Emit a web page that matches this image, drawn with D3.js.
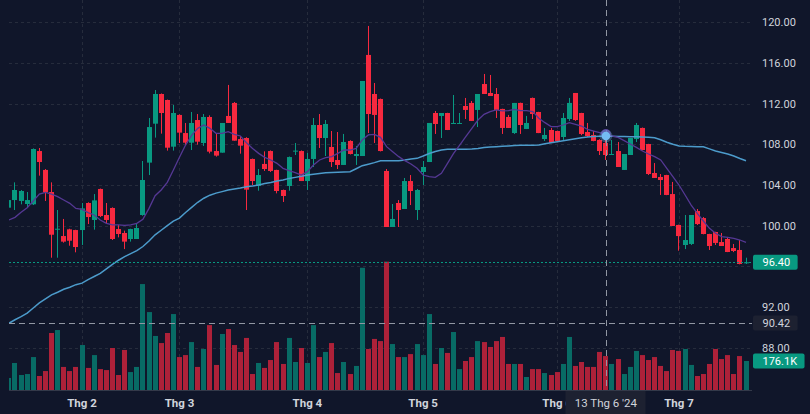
<!DOCTYPE html>
<html><head><meta charset="utf-8">
<script src="https://cdn.jsdelivr.net/npm/d3@7"></script>
<style>html,body{margin:0;padding:0;background:#10162a;}svg{display:block;}</style>
</head><body><svg id="c" width="810" height="414"></svg>
<script>
// ---------- DATA ----------
const dates = [
"2024-01-16","2024-01-17","2024-01-18","2024-01-19","2024-01-22","2024-01-23","2024-01-24","2024-01-25","2024-01-26","2024-01-29","2024-01-30","2024-01-31",
"2024-02-01","2024-02-02","2024-02-05","2024-02-06","2024-02-07","2024-02-15","2024-02-16","2024-02-19","2024-02-20","2024-02-21","2024-02-22","2024-02-23","2024-02-26","2024-02-27","2024-02-28","2024-02-29",
"2024-03-01","2024-03-04","2024-03-05","2024-03-06","2024-03-07","2024-03-08","2024-03-11","2024-03-12","2024-03-13","2024-03-14","2024-03-15","2024-03-18","2024-03-19","2024-03-20","2024-03-21","2024-03-22","2024-03-25","2024-03-26","2024-03-27","2024-03-28","2024-03-29",
"2024-04-01","2024-04-02","2024-04-03","2024-04-04","2024-04-05","2024-04-08","2024-04-09","2024-04-10","2024-04-11","2024-04-12","2024-04-15","2024-04-16","2024-04-17","2024-04-19","2024-04-22","2024-04-23","2024-04-24","2024-04-25","2024-04-26",
"2024-05-02","2024-05-03","2024-05-06","2024-05-07","2024-05-08","2024-05-09","2024-05-10","2024-05-13","2024-05-14","2024-05-15","2024-05-16","2024-05-17","2024-05-20","2024-05-21","2024-05-22","2024-05-23","2024-05-24","2024-05-27","2024-05-28","2024-05-29","2024-05-30","2024-05-31",
"2024-06-03","2024-06-04","2024-06-05","2024-06-06","2024-06-07","2024-06-10","2024-06-11","2024-06-12","2024-06-13","2024-06-14","2024-06-17","2024-06-18","2024-06-19","2024-06-20","2024-06-21","2024-06-24","2024-06-25","2024-06-26","2024-06-27","2024-06-28",
"2024-07-01","2024-07-02","2024-07-03","2024-07-04","2024-07-05","2024-07-08","2024-07-09","2024-07-10","2024-07-11","2024-07-12","2024-07-15","2024-07-16"];

const open = [101.77,102.52,102.43,102.13,102.10,107.34,105.48,103.31,99.64,98.98,
99.64,99.57,99.57,102.23,100.56,103.61,101.05,101.74,99.67,99.28,
98.69,98.69,101.05,106.20,110.03,112.95,112.36,107.77,110.89,109.11,
108.16,110.39,108.13,110.69,107.34,107.18,110.79,112.07,108.52,108.62,
106.56,103.90,106.07,107.34,105.48,103.51,103.90,107.30,107.34,104.39,
106.56,109.90,108.62,107.74,106.46,105.97,108.33,106.85,106.85,116.79,
112.95,112.46,105.38,99.87,102.23,101.64,104.39,101.54,105.28,106.26,
111.08,110.79,111.08,110.00,110.05,111.77,112.07,111.38,113.93,113.05,
112.95,111.48,110.69,109.11,112.07,109.51,112.56,111.18,108.52,109.41,
109.31,108.72,110.49,113.05,111.08,109.21,108.92,108.43,108.13,107.00,
107.34,105.48,106.95,108.52,109.61,108.03,105.18,104.79,104.98,103.11,
100.07,98.10,98.20,101.44,100.75,99.18,99.38,98.39,98.69,97.80,
97.61,96.30];
const high = [102.60,104.26,103.50,103.31,107.60,107.64,105.57,104.26,101.54,100.66,
99.70,99.60,102.23,102.30,103.11,103.65,102.23,101.80,100.07,99.51,
99.70,100.16,106.36,110.59,113.34,113.00,112.40,111.87,110.95,110.10,
111.18,110.98,110.98,110.85,109.05,110.10,113.84,112.16,108.82,108.70,
106.60,105.57,107.31,107.40,105.50,103.55,106.80,108.13,107.40,107.15,
110.59,110.98,110.39,109.31,109.21,109.02,108.40,107.84,114.23,119.64,
114.03,112.50,105.57,102.13,102.52,104.69,104.98,103.61,106.36,110.10,
111.28,111.08,111.10,112.85,111.08,112.56,112.26,112.95,114.92,114.82,
113.54,111.50,110.89,112.07,112.10,110.79,112.60,111.20,109.61,109.61,
109.35,111.08,112.56,113.05,111.10,110.10,109.31,108.50,108.50,108.43,
108.23,107.05,108.62,110.10,109.65,108.05,106.16,105.08,105.00,104.30,
100.10,101.05,101.05,101.64,100.85,99.20,99.40,99.28,98.89,98.20,
98.59,96.85];
const low = [100.53,101.54,102.10,101.77,102.03,104.92,102.43,96.85,96.85,98.33,
98.03,97.38,98.10,100.16,99.61,100.85,100.20,98.59,98.85,97.70,
98.43,98.69,100.98,104.98,108.66,109.05,107.38,107.38,108.13,107.93,
107.44,107.97,107.84,107.11,106.79,107.18,110.10,108.36,107.08,101.54,
104.00,103.44,105.38,105.28,103.18,102.33,103.44,106.95,104.39,103.51,
105.77,107.64,106.85,105.77,105.57,105.97,107.00,105.97,106.85,109.11,
108.13,107.30,99.87,99.87,99.87,101.64,102.03,100.56,104.00,106.26,
109.02,108.62,109.40,110.00,110.00,110.49,110.30,109.70,112.95,112.75,
110.59,109.02,109.60,109.02,109.02,109.50,110.49,109.10,108.33,108.13,
108.20,108.43,110.30,110.30,108.90,108.72,108.30,106.95,106.46,106.95,
105.77,105.48,106.95,108.23,107.40,104.98,104.69,103.02,103.00,99.97,
97.54,97.70,98.10,100.07,99.15,97.61,98.10,98.00,97.40,97.40,
96.20,96.23];
const close = [102.52,103.51,103.41,102.52,107.54,106.26,103.28,99.11,99.70,98.43,
98.52,97.90,101.70,100.85,102.49,100.95,100.56,98.69,99.18,98.43,
99.67,99.77,104.49,109.70,112.95,111.08,107.67,111.08,109.15,108.16,
110.10,108.26,110.69,107.28,106.89,110.10,110.10,108.36,107.87,103.54,
104.39,104.98,105.57,105.38,103.41,102.92,106.75,107.38,104.39,106.56,
109.90,108.62,110.00,106.26,105.97,108.23,107.05,107.05,114.23,110.98,
110.89,107.34,99.87,100.66,101.54,104.39,103.41,103.51,105.77,110.10,
110.00,111.08,109.41,110.10,110.10,111.38,110.30,112.95,112.95,112.75,
111.38,109.61,109.61,112.07,109.90,110.10,110.98,109.11,108.92,108.13,
108.33,110.59,112.07,110.39,109.02,108.82,108.33,107.34,106.95,107.05,
105.77,107.05,108.62,109.90,107.44,105.08,104.69,104.49,103.02,99.97,
98.98,98.59,101.05,100.16,99.18,98.00,98.30,98.00,97.41,97.51,
96.23,96.40];
// volume, thousands of shares
const volumeK = [73,164,91,97,200,85,115,346,364,140,
115,140,273,134,212,127,121,255,91,243,
109,140,643,473,328,285,346,461,200,212,
291,140,249,394,152,340,370,273,231,316,
97,164,134,182,291,158,316,170,255,164,
394,200,231,285,103,170,97,146,742,249,
310,297,779,279,200,200,218,279,212,461,
158,255,225,352,127,176,200,297,291,261,
297,322,158,158,158,79,127,127,103,91,
109,158,322,146,170,140,140,231,206,158,
188,97,140,237,212,182,200,146,115,243,
237,249,152,85,97,158,249,188,212,97,
206,176.1];
// moving averages as drawn (10 and 50 sessions)
const ma10 = [100.56,100.82,101.31,101.77,102.43,103.11,103.28,103.11,102.85,102.52,
102.2,101.7,101.6,101.28,101.05,100.56,100.23,100.07,100.07,100.03,
100.07,100.23,100.62,101.7,102.95,103.51,104.26,105.48,106.72,107.93,
108.89,109.57,109.9,109.57,109.08,109.08,109.25,108.98,108.82,108.16,
107.6,107.11,106.72,106.46,106.13,105.64,105.41,105.21,104.98,105.31,
105.97,106.46,106.69,106.79,107.11,107.44,107.44,107.6,108.43,108.92,
108.98,108.69,107.77,107.28,106.79,106.39,106.07,105.64,104.98,104.82,
104.75,105.15,106.13,107.11,107.93,108.75,109.57,110.39,110.95,111.21,
111.38,111.28,111.31,111.44,111.31,111.31,111.21,110.56,110.13,109.74,
109.74,109.9,110.13,109.97,109.8,109.48,109.31,109.15,109.02,108.82,
108.69,108.36,108.03,107.7,107.34,107.05,106.79,106.46,105.64,104.82,
104.0,103.02,102.03,101.21,100.46,99.74,99.25,98.92,98.85,98.75,
98.59,98.36];
const ma50 = [90.40,90.75,91.05,91.40,91.9,92.4,92.8,93.2,93.45,93.75,
93.95,94.2,94.35,94.7,95.0,95.3,95.75,96.2,96.6,96.95,
97.25,97.55,97.95,98.5,99.1,99.55,100.0,100.45,100.75,101.3,
101.8,102.3,102.7,103.0,103.2,103.35,103.5,103.6,103.7,103.82,
103.9,104.0,104.15,104.25,104.4,104.5,104.65,104.75,104.85,104.98,
105.05,105.12,105.2,105.22,105.25,105.28,105.31,105.6,105.9,106.05,
106.2,106.39,106.39,106.39,106.39,106.45,106.55,106.62,106.85,107.1,
107.3,107.45,107.51,107.51,107.51,107.52,107.55,107.6,107.68,107.74,
107.77,107.8,107.84,107.88,107.9,107.9,107.9,107.94,108.05,108.15,
108.26,108.35,108.45,108.55,108.65,108.72,108.78,108.8,108.82,108.8,
108.78,108.76,108.75,108.74,108.72,108.7,108.65,108.45,108.2,108.0,
107.84,107.8,107.78,107.77,107.75,107.55,107.35,107.2,107.05,106.85,
106.6,106.39];
const priceTicks = [88,92,96,100,104,108,112,116,120];
const crossDate = "2024-06-13";
const crossPrice = 90.42;

// ---------- STYLE ----------
const BG = "#10162a", UP = "#089981", DOWN = "#f7293f";
const VUP = "#086b65", VDOWN = "#ad2139";
const TXT = "#d1d4dc", GRID = "#262c3c";
const plotL = 9, plotR = 752, plotB = 390;

const svg = d3.select("#c");
svg.append("rect").attr("width",810).attr("height",414).attr("fill",BG);

const x = d3.scalePoint().domain(dates).range([8.9, 746.0]);
const y = d3.scaleLinear().domain([88,120]).range([347.7, 22.3]);
const yv = d3.scaleLinear().domain([0,800]).range([plotB, 258.2]);

svg.append("defs").append("clipPath").attr("id","clip")
  .append("rect").attr("x",plotL).attr("y",0).attr("width",plotR-plotL).attr("height",plotB);

// grid
const grid = svg.append("g");
grid.selectAll("line.h").data(priceTicks).join("line").attr("class","h")
  .attr("x1",plotL).attr("x2",plotR)
  .attr("y1",d=>Math.round(y(d))+0.5).attr("y2",d=>Math.round(y(d))+0.5)
  .attr("stroke",GRID).attr("stroke-dasharray","3,3");
const monthStarts = dates.filter((d,i)=>i>0 && d.slice(5,7)!==dates[i-1].slice(5,7));
grid.selectAll("line.v").data(monthStarts).join("line").attr("class","v")
  .attr("x1",d=>Math.round(x(d))+0.5).attr("x2",d=>Math.round(x(d))+0.5)
  .attr("y1",0).attr("y2",plotB)
  .attr("stroke",GRID).attr("stroke-dasharray","3,3");

const plot = svg.append("g").attr("clip-path","url(#clip)");
const idx = d3.range(dates.length);
const left = i => Math.round(x(dates[i]) - 2.5);

// volume
plot.append("g").selectAll("rect").data(idx).join("rect")
  .attr("x",left).attr("width",5)
  .attr("y",i=>yv(volumeK[i])).attr("height",i=>plotB-yv(volumeK[i]))
  .attr("fill",i=>close[i]>=open[i]?VUP:VDOWN);

// candles
const cg = plot.append("g");
cg.selectAll("line").data(idx).join("line")
  .attr("x1",i=>left(i)+2.5).attr("x2",i=>left(i)+2.5)
  .attr("y1",i=>y(high[i])).attr("y2",i=>y(low[i]))
  .attr("stroke",i=>close[i]>=open[i]?UP:DOWN).attr("stroke-width",1);
cg.selectAll("rect").data(idx).join("rect")
  .attr("x",left).attr("width",5)
  .attr("y",i=>y(Math.max(open[i],close[i])))
  .attr("height",i=>Math.max(1,Math.abs(y(open[i])-y(close[i]))))
  .attr("fill",i=>close[i]>=open[i]?UP:DOWN);

// moving averages
const line = d3.line().x((d,i)=>x(dates[i])).y(d=>y(d));
plot.append("path").datum(ma50).attr("d",line).attr("fill","none")
  .attr("stroke","#4c9bcb").attr("stroke-width",1.5);
plot.append("path").datum(ma10).attr("d",line).attr("fill","none")
  .attr("stroke","#553894").attr("stroke-width",1.3);

// bottom axis line
svg.append("line").attr("x1",plotL).attr("x2",plotR).attr("y1",plotB+0.5).attr("y2",plotB+0.5)
  .attr("stroke","#333949");

// current price line
const last = dates.length-1;
const yLast = y(close[last]);
svg.append("line").attr("x1",plotL).attr("x2",plotR)
  .attr("y1",Math.round(yLast)+0.5).attr("y2",Math.round(yLast)+0.5)
  .attr("stroke",UP).attr("stroke-dasharray","2,2");

// crosshair
const cx = Math.round(x(crossDate))+0.5;
const cy = Math.round(y(crossPrice))+0.5;
svg.append("line").attr("x1",cx).attr("x2",cx).attr("y1",0).attr("y2",plotB)
  .attr("stroke","#9197a3").attr("stroke-dasharray","6,4");
svg.append("line").attr("x1",plotL).attr("x2",plotR).attr("y1",cy).attr("y2",cy)
  .attr("stroke","#9197a3").attr("stroke-dasharray","6,4");
const ci = dates.indexOf(crossDate);
svg.append("circle").attr("cx",x(crossDate)).attr("cy",y(ma10[ci])).attr("r",5)
  .attr("fill","#6a45b0").attr("opacity",0.75);
svg.append("circle").attr("cx",x(crossDate)).attr("cy",y(ma50[ci])).attr("r",6.5)
  .attr("fill","#7cc3f5").attr("opacity",0.3);
svg.append("circle").attr("cx",x(crossDate)).attr("cy",y(ma50[ci])).attr("r",4.3)
  .attr("fill","#74bdf2");

// right price axis labels
const font = "Roboto, 'Noto Sans', sans-serif";
const tagYs = [yLast, y(crossPrice), yv(volumeK[last])];
svg.append("g").selectAll("text")
  .data(priceTicks.filter(p=>tagYs.every(t=>Math.abs(y(p)-t)>10)))
  .join("text").attr("x",762).attr("y",d=>y(d)).attr("dy","0.35em")
  .attr("fill",TXT).style("font",`11px ${font}`).text(d=>d.toFixed(2));

function tag(yc, label, fill, color){
  const g = svg.append("g");
  const r = g.append("rect").attr("x",753).attr("y",yc-7.5).attr("height",15).attr("rx",2).attr("fill",fill);
  const t = g.append("text").attr("x",762.5).attr("y",yc).attr("dy","0.35em")
    .attr("fill",color).style("font",`11px ${font}`).text(label);
  r.attr("width", t.node().getComputedTextLength()+17);
}
tag(yLast, close[last].toFixed(2), UP, "#ffffff");
tag(y(crossPrice), crossPrice.toFixed(2), "#1d2131", TXT);
tag(yv(volumeK[last]), volumeK[last].toFixed(1)+"K", UP, "#ffffff");

// x axis month labels
svg.append("g").selectAll("text").data(monthStarts).join("text")
  .attr("x",d=>x(d)).attr("y",407).attr("text-anchor","middle")
  .attr("fill",TXT).style("font",`bold 11.5px ${font}`)
  .text(d=>"Thg "+(+d.slice(5,7)));

// crosshair date label
const cd = new Date(crossDate+"T00:00:00");
const dateLabel = `${cd.getDate()} Thg ${cd.getMonth()+1} '${String(cd.getFullYear()).slice(2)}`;
svg.append("rect").attr("x",Math.round(x(crossDate))-40.5).attr("y",plotB+1).attr("width",80).attr("height",414-plotB-1)
  .attr("fill","#1d2131");
svg.append("text").attr("x",x(crossDate)).attr("y",407).attr("text-anchor","middle")
  .attr("fill",TXT).style("font",`11.5px ${font}`).text(dateLabel);
</script>
</body></html>
